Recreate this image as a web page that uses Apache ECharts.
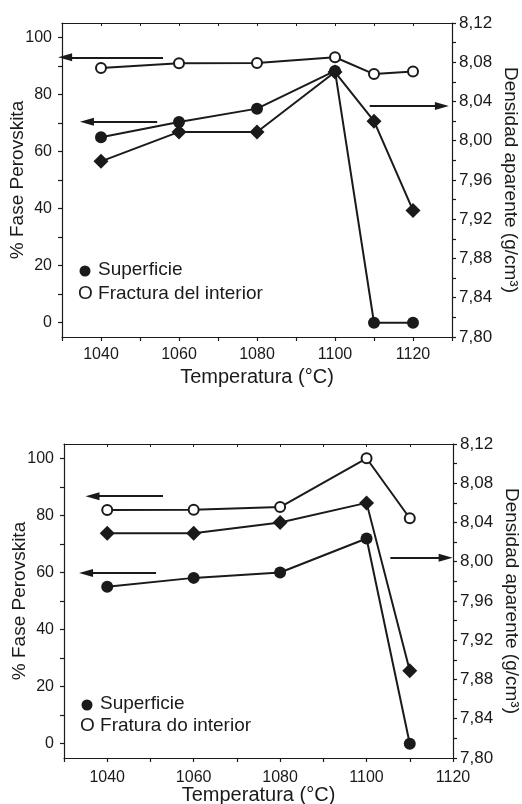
<!DOCTYPE html>
<html>
<head>
<meta charset="utf-8">
<script src="https://cdn.jsdelivr.net/npm/echarts@6/dist/echarts.min.js"></script>
<style>
  html, body { margin: 0; padding: 0; background: #fff; }
  #chart { width: 522px; height: 804px; }
</style>
</head>
<body>
<div id="chart"></div>
<script>
// upper panel
const tempTop = [1040, 1060, 1080, 1100, 1110, 1120];
const superficieTop = [65.0, 70.3, 75.0, 88.2, 0, 0];
const interiorTop = [89.2, 90.9, 91.0, 93.0, 87.1, 88.0];
const densidadTop = [7.979, 8.009, 8.009, 8.070, 8.020, 7.929];

// lower panel
const tempBottom = [1040, 1060, 1080, 1100, 1110];
const superficieBottom = [55.0, 58.1, 60.0, 71.9, 0];
const interiorBottom = [81.9, 82.0, 82.9, 100.0, 79.0];
const densidadBottom = [8.029, 8.029, 8.040, 8.060, 7.889];

// ticks
const xLabels = [1040, 1060, 1080, 1100, 1120];
const xTicks = [1030, 1040, 1050, 1060, 1070, 1080, 1090, 1100, 1110, 1120, 1130];
const faseLabels = [0, 20, 40, 60, 80, 100];
const faseTicks = [0, 10, 20, 30, 40, 50, 60, 70, 80, 90, 100];
const densLabels = [7.80, 7.84, 7.88, 7.92, 7.96, 8.00, 8.04, 8.08, 8.12];
const densTicks = [7.80, 7.82, 7.84, 7.86, 7.88, 7.90, 7.92, 7.94, 7.96, 7.98, 8.00,
  8.02, 8.04, 8.06, 8.08, 8.10, 8.12];

// arrows: [x0, y0, x1, y1] in data units
const arrowsTopLeft = [[1055.9, 93.0, 1030.8, 93.0], [1054.4, 70.4, 1036.4, 70.4]];
const arrowsTopRight = [[1108.9, 8.0355, 1127.4, 8.0355]];
const arrowsBottomLeft = [[1052.9, 86.7, 1036.6, 86.7], [1051.3, 59.8, 1035.1, 59.8]];
const arrowsBottomRight = [[1105.5, 8.004, 1118.3, 8.004]];

const FONT = "'Liberation Sans', Arial, sans-serif";
const INK = "#1a1a1a";

const zip = (xs, ys) => xs.map((x, i) => [x, ys[i]]);

function arrowMarks(list) {
  return {
    silent: true,
    animation: false,
    symbol: ["none", "triangle"],
    symbolSize: [8, 14],
    label: { show: false },
    emphasis: { disabled: true },
    lineStyle: { color: INK, width: 2, type: "solid" },
    data: list.map((a) => [{ coord: [a[0], a[1]] }, { coord: [a[2], a[3]] }]),
  };
}

function xAxisPair(gridIndex, max, nameGap, labelMargin) {
  const ticks = xTicks.filter((t) => t <= max);
  return [
    {
      type: "value", gridIndex, min: 1030, max, position: "bottom",
      name: "Temperatura (°C)", nameLocation: "middle", nameGap, nameMoveOverlap: false,
      nameTextStyle: { fontFamily: FONT, fontSize: 20, color: INK },
      axisLine: { show: true, onZero: false, lineStyle: { color: INK, width: 1.2 } },
      axisTick: { show: true, customValues: ticks, length: 4, lineStyle: { color: INK, width: 1.2 } },
      axisLabel: {
        customValues: xLabels, margin: labelMargin, fontFamily: FONT, fontSize: 16, color: INK,
        formatter: (v) => String(v),
      },
      splitLine: { show: false },
    },
    {
      type: "value", gridIndex, min: 1030, max, position: "top",
      axisLine: { show: true, onZero: false, lineStyle: { color: INK, width: 1.2 } },
      axisTick: { show: true, inside: true, customValues: ticks, length: 3, lineStyle: { color: INK, width: 1 } },
      axisLabel: { show: false },
      splitLine: { show: false },
    },
  ];
}

function yAxisPair(gridIndex) {
  return [
    {
      type: "value", gridIndex, min: -5, max: 105, position: "left",
      name: "% Fase Perovskita", nameLocation: "middle", nameGap: 35, nameMoveOverlap: false,
      nameTextStyle: { fontFamily: FONT, fontSize: 19, color: INK },
      axisLine: { show: true, lineStyle: { color: INK, width: 1.2 } },
      axisTick: { show: true, customValues: faseTicks, length: 4, lineStyle: { color: INK, width: 1.2 } },
      axisLabel: { customValues: faseLabels, margin: 10, fontFamily: FONT, fontSize: 16, color: INK },
      splitLine: { show: false },
    },
    {
      type: "value", gridIndex, min: 7.80, max: 8.12, position: "right",
      name: "Densidad aparente (g/cm³)", nameLocation: "middle", nameGap: 49, nameRotate: -90,
      nameMoveOverlap: false,
      nameTextStyle: { fontFamily: FONT, fontSize: 19, color: INK },
      axisLine: { show: true, lineStyle: { color: INK, width: 1.2 } },
      axisTick: { show: true, customValues: densTicks, length: 4, lineStyle: { color: INK, width: 1.2 } },
      axisLabel: {
        customValues: densLabels, margin: 7, fontFamily: FONT, fontSize: 17, color: INK,
        formatter: (v) => v.toFixed(2).replace(".", ","),
      },
      splitLine: { show: false },
    },
  ];
}

function seriesSet(gridOffset, temps, sup, inter, dens, leftArrows, rightArrows) {
  const xi = gridOffset * 2;
  const yi = gridOffset * 2;
  const line = { color: INK, width: 2 };
  return [
    {
      type: "line", xAxisIndex: xi, yAxisIndex: yi, data: zip(temps, sup),
      symbol: "circle", symbolSize: 12, lineStyle: line,
      itemStyle: { color: INK }, z: 3, markLine: arrowMarks(leftArrows),
    },
    {
      type: "line", xAxisIndex: xi, yAxisIndex: yi, data: zip(temps, inter),
      symbol: "circle", symbolSize: 10, lineStyle: line,
      itemStyle: { color: "#fff", borderColor: INK, borderWidth: 2 }, z: 3,
    },
    {
      type: "line", xAxisIndex: xi, yAxisIndex: yi + 1, data: zip(temps, dens),
      symbol: "diamond", symbolSize: 15, lineStyle: line,
      itemStyle: { color: INK }, z: 4, markLine: arrowMarks(rightArrows),
    },
  ];
}

function legendBlock(x, yFirst, ySecond, label2) {
  const text = (left, y, str) => ({
    type: "text", left, top: y - 11,
    style: { text: str, fontFamily: FONT, fontSize: 19, fill: INK },
  });
  return [
    { type: "circle", shape: { cx: x + 7, cy: yFirst, r: 5.5 }, style: { fill: INK } },
    text(x + 20, yFirst, "Superficie"),
    text(x, ySecond, "O " + label2),
  ];
}

const chart = echarts.init(document.getElementById("chart"));
chart.setOption({
  animation: false,
  backgroundColor: "#fff",
  grid: [
    { left: 62, top: 23, width: 390, height: 314, outerBoundsMode: "none" },
    { left: 64, top: 444, width: 389, height: 314, outerBoundsMode: "none" },
  ],
  xAxis: [...xAxisPair(0, 1130, 30, 10), ...xAxisPair(1, 1120, 27, 12)],
  yAxis: [...yAxisPair(0), ...yAxisPair(1)],
  series: [
    ...seriesSet(0, tempTop, superficieTop, interiorTop, densidadTop, arrowsTopLeft, arrowsTopRight),
    ...seriesSet(1, tempBottom, superficieBottom, interiorBottom, densidadBottom, arrowsBottomLeft, arrowsBottomRight),
  ],
  graphic: [
    ...legendBlock(78, 271, 295, "Fractura del interior"),
    ...legendBlock(80, 705, 727, "Fratura do interior"),
  ],
});
</script>
</body>
</html>
